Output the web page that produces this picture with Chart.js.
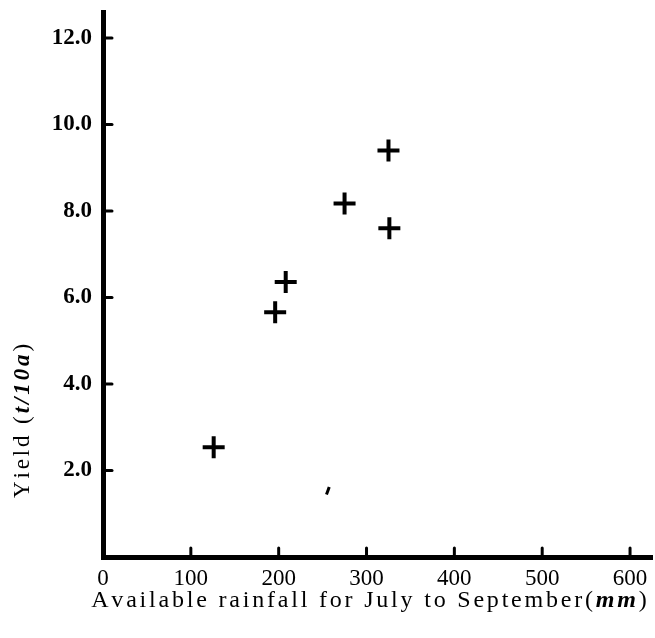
<!DOCTYPE html>
<html>
<head>
<meta charset="utf-8">
<script src="https://cdn.jsdelivr.net/npm/chart.js@4.4.1/dist/chart.umd.min.js"></script>
<style>
  html, body { margin: 0; padding: 0; background: #fff; }
  #wrap { width: 655px; height: 638px; }
</style>
</head>
<body>
<div id="wrap"><canvas id="yieldChart" width="655" height="638"></canvas></div>
<script>
// data
const rainfall = [126, 196, 208, 275, 325, 326];      // mm
const yieldVals = [2.54, 5.66, 6.36, 8.17, 9.40, 7.60]; // t/10a
const strayMark = [{ x: 256, y: 1.53 }];               // small dash in the scan

const xTicks = [0, 100, 200, 300, 400, 500, 600];
const yTicks = [0, 2, 4, 6, 8, 10, 12];
const xMax = 625;
const yMax = 12.6;

const serif = '"Liberation Serif", "DejaVu Serif", serif';

// draw text runs letter by letter with extra spacing
function drawRuns(ctx, runs, spacing) {
    let total = 0;
    runs.forEach(r => {
        ctx.font = r.font;
        for (const ch of r.text) total += ctx.measureText(ch).width + spacing;
    });
    total -= spacing;
    let x = -total / 2;
    runs.forEach(r => {
        ctx.font = r.font;
        for (const ch of r.text) {
            ctx.fillText(ch, x, 0);
            x += ctx.measureText(ch).width + spacing;
        }
    });
}

// axis titles + inward tick marks
const decorPlugin = {
    id: 'decor',
    afterDraw(chart) {
        const ctx = chart.ctx;
        const area = chart.chartArea;
        const xs = chart.scales.x;
        const ys = chart.scales.y;

        ctx.save();
        ctx.strokeStyle = '#000';
        ctx.lineWidth = 3;
        ctx.lineCap = 'round';
        yTicks.forEach(v => {
            if (v === 0) return;
            const py = ys.getPixelForValue(v);
            ctx.beginPath();
            ctx.moveTo(area.left, py);
            ctx.lineTo(area.left + 9, py);
            ctx.stroke();
        });
        xTicks.forEach(v => {
            if (v === 0) return;
            const px = xs.getPixelForValue(v);
            ctx.beginPath();
            ctx.moveTo(px, area.bottom);
            ctx.lineTo(px, area.bottom - 9);
            ctx.stroke();
        });

        ctx.fillStyle = '#000';
        ctx.textBaseline = 'middle';
        ctx.textAlign = 'left';

        // x title
        ctx.save();
        ctx.translate(369, 601);
        drawRuns(ctx, [
            { text: 'Available rainfall for July to September(', font: '24px ' + serif },
            { text: 'mm', font: 'italic bold 24px ' + serif },
            { text: ')', font: '24px ' + serif }
        ], 2.8);
        ctx.restore();

        // y title
        ctx.save();
        ctx.translate(23, 421);
        ctx.rotate(-Math.PI / 2);
        drawRuns(ctx, [
            { text: 'Yield (', font: '23px ' + serif },
            { text: 't/10a', font: 'italic bold 23px ' + serif },
            { text: ')', font: '23px ' + serif }
        ], 2.9);
        ctx.restore();

        ctx.restore();
    }
};

function initChart() {
    const ctx = document.getElementById('yieldChart').getContext('2d');

    new Chart(ctx, {
        type: 'scatter',
        data: {
            datasets: [{
                data: rainfall.map((r, i) => ({ x: r, y: yieldVals[i] })),
                pointStyle: 'cross',
                pointRadius: 11,
                pointBorderWidth: 4,
                borderColor: '#000',
                backgroundColor: '#000',
                clip: false
            }, {
                data: strayMark,
                pointStyle: 'line',
                pointRadius: 4,
                pointRotation: -70,
                pointBorderWidth: 3,
                borderColor: '#000',
                backgroundColor: '#000',
                clip: false
            }]
        },
        options: {
            responsive: false,
            animation: false,
            layout: { autoPadding: false, padding: { top: 12, right: 3, left: 0, bottom: 0 } },
            plugins: {
                legend: { display: false },
                tooltip: { enabled: false }
            },
            scales: {
                x: {
                    type: 'linear',
                    min: 0,
                    max: xMax,
                    afterBuildTicks: s => { s.ticks = xTicks.map(v => ({ value: v })); },
                    afterFit: s => { s.height = 81; s.paddingLeft = 0; s.paddingRight = 0; },
                    grid: { display: true, drawOnChartArea: false, drawTicks: false },
                    border: { display: true, color: '#000', width: 5 },
                    ticks: {
                        color: '#000',
                        padding: 8,
                        maxRotation: 0,
                        font: { family: serif, size: 23 },
                        callback: v => String(v)
                    }
                },
                y: {
                    type: 'linear',
                    min: 0,
                    max: yMax,
                    afterBuildTicks: s => { s.ticks = yTicks.filter(v => v > 0).map(v => ({ value: v })); },
                    afterFit: s => { s.width = 103; s.paddingTop = 0; s.paddingBottom = 0; },
                    grid: { display: true, drawOnChartArea: false, drawTicks: false },
                    border: { display: true, color: '#000', width: 5 },
                    ticks: {
                        color: '#000',
                        padding: 11,
                        font: { family: serif, size: 23, weight: 'bold' },
                        callback: v => v.toFixed(1)
                    }
                }
            }
        },
        plugins: [decorPlugin]
    });
}

window.addEventListener('DOMContentLoaded', () => {
    initChart();
});
</script>
</body>
</html>
